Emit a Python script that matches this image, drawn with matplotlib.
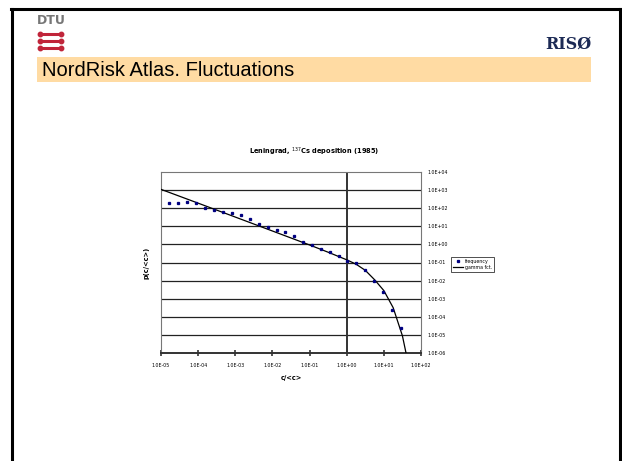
import numpy as np
import matplotlib.pyplot as plt
from matplotlib.lines import Line2D
from matplotlib.patches import Rectangle

# measured frequency of c/<c>
freq_x = [1.66e-5, 2.88e-5, 5.13e-5, 8.91e-5, 1.55e-4, 2.69e-4, 4.68e-4, 8.13e-4,
          1.41e-3, 2.45e-3, 4.27e-3, 7.41e-3, 1.29e-2, 2.24e-2, 3.89e-2, 6.76e-2,
          0.117, 0.204, 0.355, 0.617, 1.02, 1.82, 3.16, 5.50, 9.55, 16.6, 28.8]
freq_y = [186, 186, 229, 186, 107, 79.4, 61.7, 52.5,
          40.7, 25.1, 13.8, 8.71, 6.31, 4.90, 2.88, 1.35,
          0.891, 0.562, 0.363, 0.219, 0.126, 0.0912, 0.0389, 0.00977, 0.00234, 2.40e-4, 2.29e-5]

# fitted gamma function
gam_x = [1e-5, 1e-4, 1e-3, 1e-2, 0.1, 0.316, 1.0, 1.78, 3.16, 5.62, 10.0, 17.8, 31.6, 50.0]
gam_y = [1.1e3, 190, 32.4, 5.5, 0.93, 0.37, 0.141, 0.081, 0.037, 0.0112, 0.0028, 3.2e-4, 8.9e-6, 1.0e-7]

xticks = [1e-5, 1e-4, 1e-3, 1e-2, 1e-1, 1e0, 1e1, 1e2]
yticks = [1e-6, 1e-5, 1e-4, 1e-3, 1e-2, 1e-1, 1e0, 1e1, 1e2, 1e3, 1e4]

W, H = 622, 461
fig = plt.figure(figsize=(W / 100, H / 100), dpi=100)
fig.patch.set_facecolor('white')

# slide frame
for xx in (12, 620):
    fig.add_artist(Line2D([xx / W, xx / W], [0, 1 - 9 / H], color='black', lw=2.2))
fig.add_artist(Line2D([11 / W, 621 / W], [1 - 9.5 / H, 1 - 9.5 / H], color='black', lw=2.2))

# header band
fig.add_artist(Rectangle((37 / W, 1 - 82 / H), (591 - 37) / W, 25 / H,
                         facecolor='#ffdba3', edgecolor='none'))
fig.text(42 / W, 1 - 70 / H, 'NordRisk Atlas. Fluctuations', fontsize=14.5,
         family='Liberation Sans', va='center', ha='left', color='black')

# DTU logo
fig.text(37 / W, 1 - 20 / H, 'DTU', fontsize=9, family='DejaVu Sans Condensed',
         fontweight='bold', color='#777777', va='center', ha='left')
for yy in (34, 41, 48):
    fig.add_artist(Line2D([39 / W, 62 / W], [1 - yy / H] * 2, color='#c0253a', lw=2.2,
                          solid_capstyle='round'))
    fig.add_artist(Line2D([40 / W, 61 / W], [1 - yy / H] * 2, color='#c0253a', lw=0,
                          marker='o', markersize=3.2, markevery=[0, 1]))

# RISO logo
fig.text(591 / W, 1 - 44 / H, 'RISØ', fontsize=11.5, family='DejaVu Serif',
         fontweight='bold', color='#1c2a55', va='center', ha='right')

# chart
ax = fig.add_axes([161 / W, 1 - 353 / H, (421 - 161) / W, (353 - 172) / H])
ax.set_xscale('log')
ax.set_yscale('log')
ax.set_xlim(1e-5, 1e2)
ax.set_ylim(1e-6, 1e4)

for yv in yticks[1:-1]:
    ax.axhline(yv, color='#222222', lw=0.9, zorder=1)
ax.axvline(1.0, color='#333333', lw=1.4, zorder=2)

ax.plot(freq_x, freq_y, linestyle='none', marker='s', markersize=1.4,
        color='#000080', label='frequency', zorder=4)
ax.plot(gam_x, gam_y, color='black', lw=0.9, label='gamma fct.', zorder=3)

for side in ('left', 'top', 'right'):
    ax.spines[side].set_color('#777777')
    ax.spines[side].set_linewidth(0.8)
ax.spines['bottom'].set_color('#333333')
ax.spines['bottom'].set_linewidth(1.4)

ax.set_xticks(xticks)
ax.set_xticklabels(['%.1E' % v for v in xticks])
ax.xaxis.set_minor_locator(plt.NullLocator())
ax.tick_params(axis='x', which='major', direction='inout', length=4, width=1.2,
               color='#333333', labelsize=3.4, pad=5)

ax.set_yticks(yticks)
ax.set_yticklabels(['%.1E' % v for v in yticks])
ax.yaxis.set_minor_locator(plt.NullLocator())
ax.yaxis.tick_right()
ax.tick_params(axis='y', which='major', length=0, labelsize=3.4, pad=5)

ax.set_xlabel('c/<c>', fontsize=4.8, fontweight='bold', labelpad=5)
ax.set_ylabel('p(c/<c>)', fontsize=4.8, fontweight='bold', labelpad=8)
ax.yaxis.set_label_position('left')

fig.text(314 / W, 1 - 152 / H, r'Leningrad, $^{137}$Cs deposition (1985)',
         fontsize=4.8, fontweight='bold', ha='center', va='center')

leg = fig.legend(loc='upper left', bbox_to_anchor=(451 / W, 1 - 257 / H),
                 fontsize=3.4, frameon=True, fancybox=False, edgecolor='black',
                 borderpad=0.4, handlelength=2.2, labelspacing=0.25, markerscale=1.0,
                 handletextpad=0.3, borderaxespad=0)
leg.get_frame().set_linewidth(0.6)

fig.savefig('out.png', dpi=100)
